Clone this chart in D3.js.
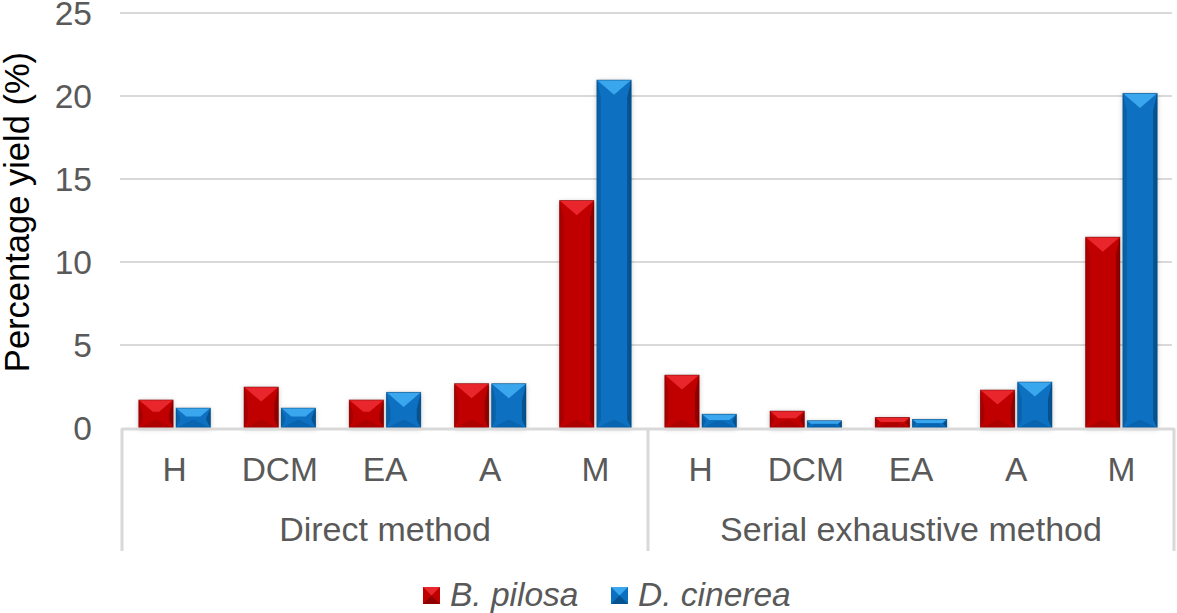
<!DOCTYPE html>
<html><head><meta charset="utf-8">
<script src="https://cdn.jsdelivr.net/npm/d3@7"></script>
<style>body{margin:0;background:#fff}svg{display:block}</style>
</head><body><svg id="c" width="1177" height="613"></svg>
<script>
const categories = ["H","DCM","EA","A","M","H","DCM","EA","A","M"];
const groups = ["Direct method","Serial exhaustive method"];
const groupSize = 5;
const seriesNames = ["B. pilosa","D. cinerea"];
const bPilosa = [1.69,2.47,1.69,2.67,13.7,3.19,1.02,0.64,2.29,11.5];
const dCinerea = [1.2,1.2,2.15,2.67,20.96,0.83,0.44,0.52,2.77,20.16];
const yTicks = [0,5,10,15,20,25];

(function(){
const svg = d3.select("#c");
const pLeft = 122, pRight = 1174, pTop = 13, pBase = 428;
const x = d3.scaleBand().domain(d3.range(categories.length)).range([pLeft,pRight]).paddingInner(0.32).paddingOuter(0.16);
const xs = d3.scaleBand().domain([0,1]).range([0,x.bandwidth()]).paddingInner(0.08);
const y = d3.scaleLinear().domain([0,25]).range([pBase,pTop]);
const grey = "#d9d9d9", txt = "#595959";
const font = "'Liberation Sans', Arial, Helvetica, sans-serif";
const fs = 33.5;

const defs = svg.append("defs");
const f = defs.append("filter").attr("id","sh").attr("x","-30%").attr("y","-30%").attr("width","160%").attr("height","160%");
f.append("feDropShadow").attr("dx",0).attr("dy",1).attr("stdDeviation",2.5).attr("flood-color","#000").attr("flood-opacity",0.25);

// gridlines
svg.append("g").selectAll("line").data(yTicks.filter(d=>d>0)).join("line")
  .attr("x1",pLeft-2).attr("x2",pRight-2).attr("y1",d=>y(d)).attr("y2",d=>y(d))
  .attr("stroke",grey).attr("stroke-width",2);

// y tick labels
svg.append("g").selectAll("text").data(yTicks).join("text")
  .attr("x",92).attr("y",d=>y(d)).attr("dy","0.35em").attr("text-anchor","end")
  .attr("font-family",font).attr("font-size",fs).attr("fill",txt).text(d=>d);

// y title
svg.append("text").attr("transform","translate(29,212) rotate(-90)").attr("text-anchor","middle")
  .attr("font-family",font).attr("font-size",34.5).attr("fill","#000").text("Percentage yield (%)");

// bars
const palettes = [
  {face:"#c00000", top:"#e8262c", side:"#a80000", bot:"#8e0000", edge:"#6e0000"},
  {face:"#0a70c0", top:"#3aa6ee", side:"#0862aa", bot:"#05528f", edge:"#034170"}
];
const series = [bPilosa, dCinerea];
const bars = svg.append("g");
series.forEach((vals,si)=>{
  const p = palettes[si];
  vals.forEach((v,i)=>{
    const x0 = x(i)+xs(si), w = xs.bandwidth(), x1 = x0+w;
    const y0 = y(v), y1 = y(0), h = y1-y0;
    const b = Math.min(w/2, h/2);
    const bb = Math.min(b, 8);
    const g = bars.append("g");
    g.append("rect").attr("x",x0).attr("y",y0).attr("width",w).attr("height",h).attr("fill",p.face).attr("filter","url(#sh)");
    const bs = Math.min(b, 4);
    g.append("polygon").attr("points",[[x0,y0],[x0+bs,y0+b],[x0+bs,y1-bb],[x0,y1]].join(" ")).attr("fill",p.side);
    g.append("polygon").attr("points",[[x1,y0],[x1-bs,y0+b],[x1-bs,y1-bb],[x1,y1]].join(" ")).attr("fill",p.bot);
    g.append("polygon").attr("points",[[x0,y1],[x1,y1],[x1-bb*2,y1-bb],[x0+bb*2,y1-bb]].join(" ")).attr("fill",p.side).attr("opacity",0.8);
    g.append("polygon").attr("points",[[x0,y0],[x1,y0],[x1-b,y0+b*0.85],[x0+b,y0+b*0.85]].join(" ")).attr("fill",p.top);
    g.append("rect").attr("x",x0).attr("y",y0).attr("width",w).attr("height",h).attr("fill","none").attr("stroke",p.edge).attr("stroke-width",0.8).attr("opacity",0.6);
  });
});

// axis line and separators
svg.append("line").attr("x1",pLeft).attr("x2",pRight).attr("y1",pBase+1).attr("y2",pBase+1).attr("stroke",grey).attr("stroke-width",3);
const sepX = [pLeft, x(groupSize)-x.step()*x.paddingInner()/2, pRight];
svg.append("g").selectAll("line").data(sepX).join("line")
  .attr("x1",d=>d).attr("x2",d=>d).attr("y1",pBase).attr("y2",551).attr("stroke",grey).attr("stroke-width",3);

// category labels
svg.append("g").selectAll("text").data(categories).join("text")
  .attr("x",(d,i)=>x(i)+x.bandwidth()/2).attr("y",481).attr("text-anchor","middle")
  .attr("font-family",font).attr("font-size",fs).attr("fill",txt).text(d=>d);

// group labels
svg.append("g").selectAll("text").data(groups).join("text")
  .attr("x",(d,gi)=>(x(gi*groupSize)+x(gi*groupSize+groupSize-1)+x.bandwidth())/2).attr("y",541).attr("text-anchor","middle")
  .attr("font-family",font).attr("font-size",fs+0.5).attr("fill",txt).text(d=>d);

// legend
const legX = [423, 611];
const leg = svg.append("g");
seriesNames.forEach((n,si)=>{
  const p = palettes[si];
  const lx = legX[si], ly = 587, s = 17;
  leg.append("rect").attr("x",lx).attr("y",ly).attr("width",s).attr("height",s).attr("fill",p.face);
  leg.append("polygon").attr("points",[[lx,ly],[lx+s,ly],[lx+s/2,ly+s/2]].join(" ")).attr("fill",p.top);
  leg.append("polygon").attr("points",[[lx,ly+s],[lx+s,ly+s],[lx+s/2,ly+s/2]].join(" ")).attr("fill",p.bot);
  leg.append("text").attr("x",lx+27).attr("y",606)
    .attr("font-family",font).attr("font-size",fs).attr("font-style","italic").attr("fill",txt).text(n);
});
})();
</script></body></html>
